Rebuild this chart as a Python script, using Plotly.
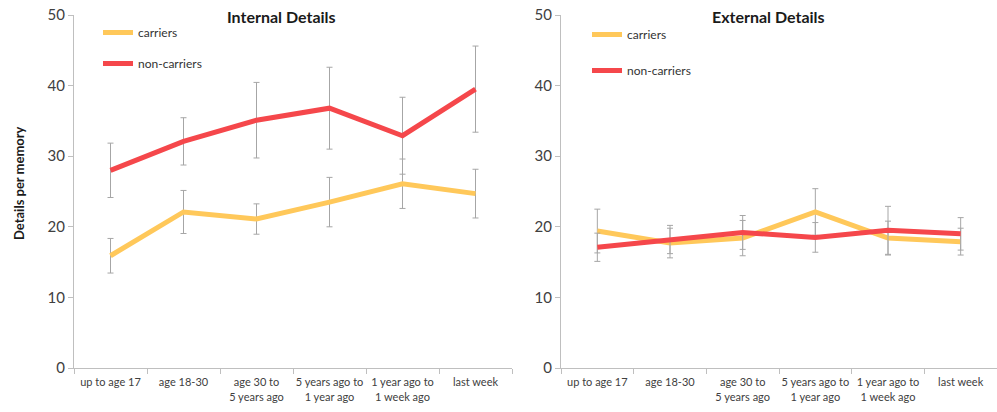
import plotly.graph_objects as go

categories = ["up to age 17", "age 18-30", "age 30 to<br>5 years ago",
              "5 years ago to<br>1 year ago", "1 year ago to<br>1 week ago", "last week"]

internal_carriers = [15.9, 22.1, 21.1, 23.5, 26.1, 24.7]
internal_carriers_err = [2.45, 3.05, 2.15, 3.5, 3.5, 3.45]
internal_noncarriers = [28.0, 32.1, 35.1, 36.8, 32.9, 39.5]
internal_noncarriers_err = [3.85, 3.35, 5.35, 5.8, 5.45, 6.1]

external_carriers = [19.4, 17.7, 18.4, 22.1, 18.4, 17.9]
external_carriers_err = [3.1, 2.1, 2.5, 3.3, 2.4, 1.9]
external_noncarriers = [17.1, 18.2, 19.2, 18.5, 19.5, 19.0]
external_noncarriers_err = [2.0, 2.0, 2.4, 2.1, 3.4, 2.3]

series_names = ["carriers", "non-carriers"]
C_CAR = "#FFC85A"
C_NON = "#F5474B"
ERR_C = "#A6A6A6"
FONT = "Lato"

fig = go.Figure()

def add(x, y, err, name, color, xa, ya, legend, group):
    fig.add_trace(go.Scatter(
        x=x, y=y, name=name, mode="lines", xaxis=xa, yaxis=ya,
        line=dict(color=color, width=5),
        error_y=dict(type="data", array=err, visible=True, color=ERR_C, thickness=1, width=3),
        legend=legend, legendgroup=group + legend,
    ))

add(categories, internal_carriers, internal_carriers_err, series_names[0], C_CAR, "x", "y", "legend", "a")
add(categories, internal_noncarriers, internal_noncarriers_err, series_names[1], C_NON, "x", "y", "legend", "b")
add(categories, external_carriers, external_carriers_err, series_names[0], C_CAR, "x2", "y2", "legend2", "a")
add(categories, external_noncarriers, external_noncarriers_err, series_names[1], C_NON, "x2", "y2", "legend2", "b")

W, H = 997, 412
ydom = [1 - 368 / H, 1 - 15 / H]

xcommon = dict(
    type="category", range=[-0.5, 5.5], showgrid=False, zeroline=False,
    showline=True, linecolor="#BFBFBF", linewidth=1, automargin=False, tickangle=0,
    ticks="outside", tickson="boundaries", ticklen=5, tickcolor="#BFBFBF",
    ticklabelstandoff=4,
    tickfont=dict(family=FONT, size=11, color="#404040"),
)
ycommon = dict(
    range=[0, 50], dtick=10, showgrid=False, zeroline=False, automargin=False,
    showline=True, linecolor="#BFBFBF", linewidth=1,
    ticks="outside", ticklen=5, tickcolor="#BFBFBF",
    tickfont=dict(family=FONT, size=15, color="#404040"),
)

legcommon = dict(
    font=dict(family=FONT, size=12, color="#333333"),
    bgcolor="rgba(0,0,0,0)", xanchor="left", yanchor="top",
    traceorder="grouped", itemwidth=30,
)

fig.update_layout(
    width=W, height=H,
    margin=dict(l=0, r=0, t=0, b=0),
    paper_bgcolor="white", plot_bgcolor="white",
    font=dict(family=FONT, color="#333333"),
    xaxis=dict(domain=[74 / W, 512 / W], anchor="y", **xcommon),
    yaxis=dict(domain=ydom, anchor="x", **ycommon),
    xaxis2=dict(domain=[561 / W, 1.0], anchor="y2", **xcommon),
    yaxis2=dict(domain=ydom, anchor="x2", **ycommon),
    legend=dict(x=98 / W, y=1 - 18 / H, tracegroupgap=12, **legcommon),
    legend2=dict(x=587 / W, y=1 - 20 / H, tracegroupgap=17, **legcommon),
    annotations=[
        dict(text="<b>Internal Details</b>", x=281 / W, y=1 - 17 / H, xref="paper", yref="paper",
             showarrow=False, font=dict(family=FONT, size=16, color="#1a1a1a"),
             xanchor="center", yanchor="middle"),
        dict(text="<b>External Details</b>", x=768 / W, y=1 - 17 / H, xref="paper", yref="paper",
             showarrow=False, font=dict(family=FONT, size=16, color="#1a1a1a"),
             xanchor="center", yanchor="middle"),
        dict(text="<b>Details per memory</b>", x=19 / W, y=1 - 183 / H, xref="paper", yref="paper",
             showarrow=False, textangle=-90, font=dict(family=FONT, size=13, color="#1a1a1a"),
             xanchor="center", yanchor="middle"),
    ],
)

fig.write_html("out.html")
